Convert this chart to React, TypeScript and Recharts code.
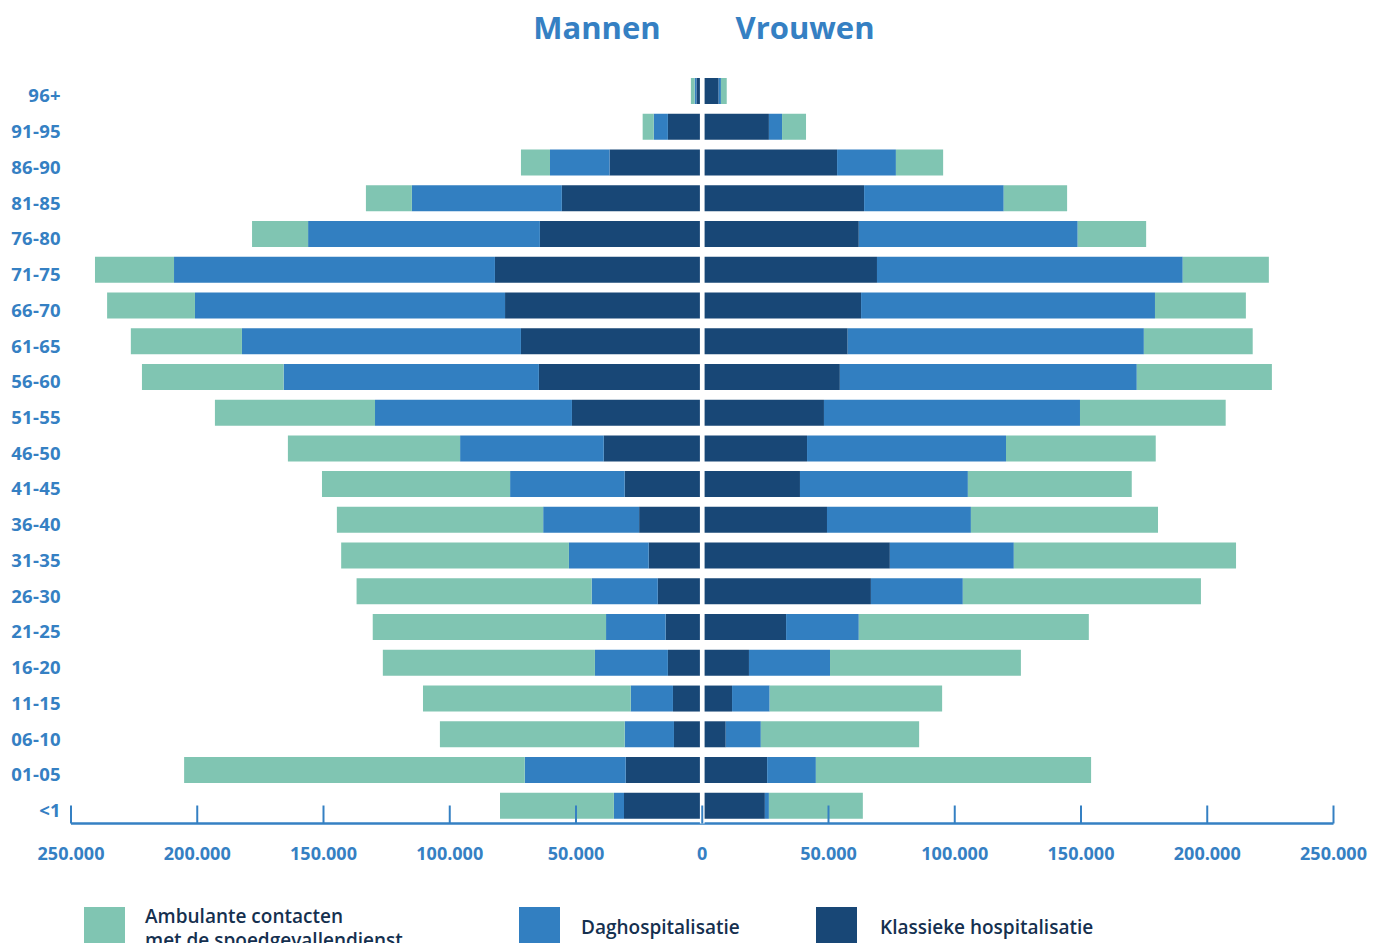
import React from 'react';
import { Bar, BarChart, ReferenceLine, XAxis, YAxis } from 'recharts';

const AGE_GROUPS = [
  '96+', '91-95', '86-90', '81-85', '76-80', '71-75', '66-70', '61-65', '56-60', '51-55', '46-50',
  '41-45', '36-40', '31-35', '26-30', '21-25', '16-20', '11-15', '06-10', '01-05', '<1',
];

// Mannen
const MEN_KLASSIEK = [
  2300, 13600, 36700, 55600, 64300, 82100, 78100, 71800, 64700, 51600, 39000,
  30700, 25000, 21200, 17600, 14500, 13600, 11600, 11200, 30300, 31000,
];
const MEN_DAG = [
  700, 5600, 23600, 59400, 91800, 127100, 122800, 110500, 101100, 78000, 56900,
  45400, 38000, 31600, 26200, 23600, 28900, 16700, 19500, 40000, 4000,
];
const MEN_AMBULANT = [
  1500, 4400, 11500, 18200, 22200, 31300, 34800, 44000, 56100, 63400, 68200,
  74500, 81700, 90200, 93100, 92400, 84000, 82300, 73200, 134900, 45100,
];

// Vrouwen
const WOMEN_KLASSIEK = [
  6500, 26400, 53400, 64100, 62000, 69200, 62900, 57600, 54500, 48200, 41500,
  38700, 49400, 74300, 66800, 33200, 18500, 11800, 9300, 25700, 24800,
];
const WOMEN_DAG = [
  900, 5200, 23300, 55300, 86700, 121100, 116400, 117300, 117600, 101400, 78800,
  66500, 57000, 49100, 36400, 28800, 32100, 14900, 13900, 19300, 1600,
];
const WOMEN_AMBULANT = [
  2300, 9500, 18700, 25100, 27100, 34100, 36000, 43100, 53500, 57700, 59300,
  64900, 74100, 88000, 94300, 91100, 75600, 68300, 62700, 109000, 37200,
];

const X_TICKS = [-250000, -200000, -150000, -100000, -50000, 0, 50000, 100000, 150000, 200000, 250000];

const LEGEND = [
  { label: ['Ambulante contacten', 'met de spoedgevallendienst'], color: '#80c5b2', left: 76, textLeft: 137 },
  { label: ['Daghospitalisatie'], color: '#327fc1', left: 511, textLeft: 573 },
  { label: ['Klassieke hospitalisatie'], color: '#184776', left: 808, textLeft: 872 },
];

const BLUE = '#3580c3';
const FONT = '"Open Sans", "Noto Sans", sans-serif';

const rows = AGE_GROUPS.map((age, i) => ({
  age,
  mKlas: -MEN_KLASSIEK[i],
  mDag: -MEN_DAG[i],
  mAmb: -MEN_AMBULANT[i],
  wKlas: WOMEN_KLASSIEK[i],
  wDag: WOMEN_DAG[i],
  wAmb: WOMEN_AMBULANT[i],
}));

const fmt = (v: number) => String(Math.abs(v)).replace(/\B(?=(\d{3})+(?!\d))/g, '.');

function XTick({ x, y, payload }: any) {
  return (
    <g>
      <line x1={x} x2={x} y1={y - 18} y2={y} stroke={BLUE} strokeWidth={2} />
      <text x={x} y={y + 29} textAnchor="middle" dominantBaseline="central" fill={BLUE} fontSize={18} fontWeight={700} fontFamily={FONT}>
        {fmt(payload.value)}
      </text>
    </g>
  );
}

function YTick({ x, y, payload }: any) {
  return (
    <text x={x - 10} y={y + 4} textAnchor="end" dominantBaseline="central" fill={BLUE} fontSize={18.5} fontWeight={700} fontFamily={FONT} letterSpacing={0.3}>
      {payload.value}
    </text>
  );
}

export default function App() {
  return (
    <div style={{ position: 'relative', width: 1369, height: 935, fontFamily: FONT }}>
      <div style={{ position: 'absolute', top: -1, left: 489, width: 200, textAlign: 'center', color: BLUE, fontSize: 31, fontWeight: 700, lineHeight: '40px' }}>
        Mannen
      </div>
      <div style={{ position: 'absolute', top: -1, left: 697, width: 200, textAlign: 'center', color: BLUE, fontSize: 31, fontWeight: 700, lineHeight: '40px' }}>
        Vrouwen
      </div>
      <div style={{ position: 'absolute', top: 0, left: 0 }}>
        <BarChart
          width={1369}
          height={880}
          data={rows}
          layout="vertical"
          stackOffset="sign"
          barSize={26}
          margin={{ top: 65, right: 43.5, bottom: 24.5, left: 0 }}
        >
          <XAxis
            type="number"
            domain={[-250000, 250000]}
            ticks={X_TICKS}
            allowDataOverflow
            height={40}
            tickSize={0}
            tickMargin={0}
            tickLine={false}
            axisLine={{ stroke: BLUE, strokeWidth: 2.5 }}
            tick={<XTick />}
            zIndex={100}
          />
          <YAxis
            type="category"
            dataKey="age"
            width={63}
            axisLine={false}
            tickLine={false}
            tickSize={0}
            tickMargin={0}
            interval={0}
            tick={<YTick />}
          />
          <Bar dataKey="mKlas" stackId="a" fill="#184776" isAnimationActive={false} />
          <Bar dataKey="mDag" stackId="a" fill="#327fc1" isAnimationActive={false} />
          <Bar dataKey="mAmb" stackId="a" fill="#80c5b2" isAnimationActive={false} />
          <Bar dataKey="wKlas" stackId="a" fill="#184776" isAnimationActive={false} />
          <Bar dataKey="wDag" stackId="a" fill="#327fc1" isAnimationActive={false} />
          <Bar dataKey="wAmb" stackId="a" fill="#80c5b2" isAnimationActive={false} />
          <ReferenceLine x={0} stroke="#ffffff" strokeWidth={4.7} />
        </BarChart>
      </div>
      {LEGEND.map((item) => (
        <React.Fragment key={item.color}>
          <div style={{ position: 'absolute', top: 899, left: item.left, width: 41, height: 40, background: item.color }} />
          <div
            style={{
              position: 'absolute',
              top: item.label.length > 1 ? 896 : 907,
              left: item.textLeft,
              color: '#15304f',
              fontSize: 19,
              fontWeight: 600,
              lineHeight: '24px',
              whiteSpace: 'nowrap',
            }}
          >
            {item.label.map((l) => (
              <div key={l}>{l}</div>
            ))}
          </div>
        </React.Fragment>
      ))}
    </div>
  );
}
